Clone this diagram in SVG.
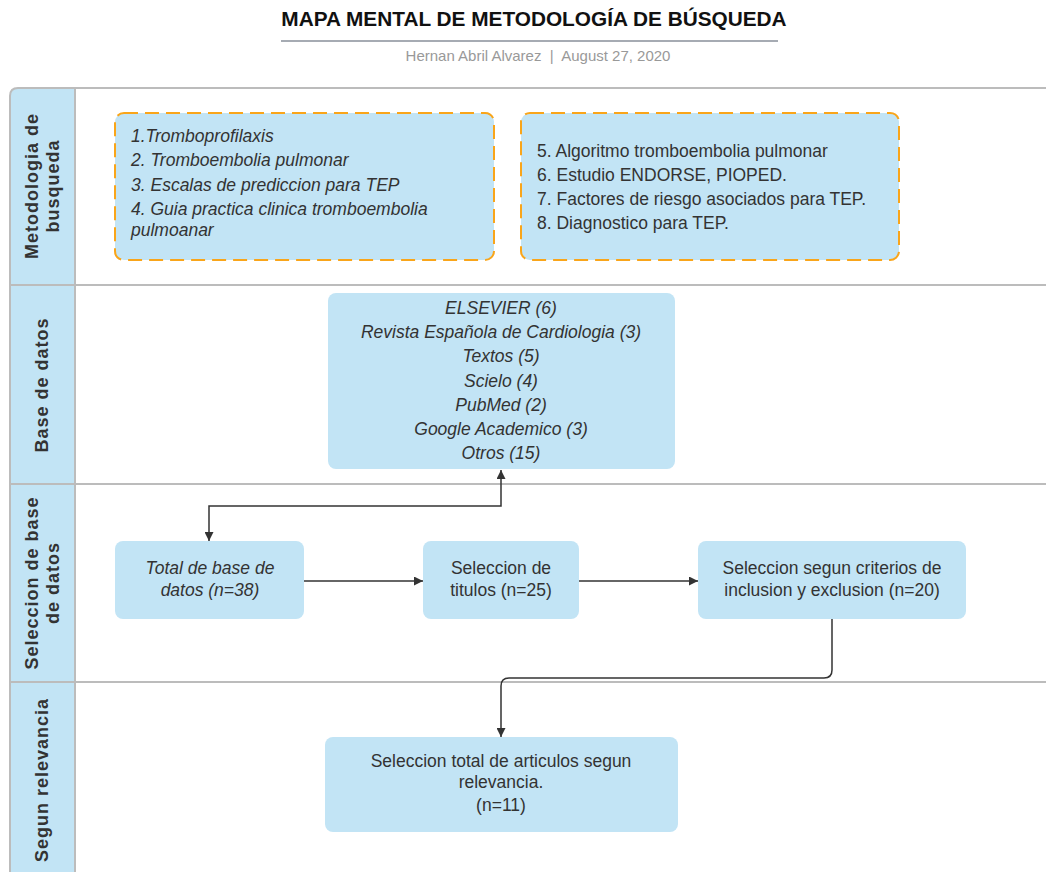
<svg xmlns="http://www.w3.org/2000/svg" width="1046" height="872" viewBox="0 0 1046 872">
<style>
.lane{fill:none;stroke:#bcbcbc;stroke-width:2}
.hdr{fill:#c2e4f5}
.lbl{font-family:"Liberation Sans",Arial,sans-serif;font-size:18px;font-weight:bold;fill:#333;letter-spacing:1px;text-anchor:middle}
.box{fill:#c2e4f5}
.dash{fill:#c2e4f5;stroke:#f9a51a;stroke-width:2;stroke-dasharray:14 7}
.t{font-family:"Liberation Sans",Arial,sans-serif;font-size:17.5px;fill:#333}
.i{font-style:italic}
.c{text-anchor:middle}
.edge{fill:none;stroke:#333;stroke-width:1.5}
</style>
<defs>
<marker id="ah" viewBox="0 0 10 10" refX="10" refY="5" markerWidth="9" markerHeight="9" markerUnits="userSpaceOnUse" orient="auto-start-reverse">
<path d="M0,0 L10,5 L0,10 z" fill="#333"/>
</marker>
</defs>
<rect width="1046" height="872" fill="#fff"/>
<g id="title">
<text x="534" y="26" font-family="Liberation Sans,Arial,sans-serif" font-size="20.8" font-weight="bold" fill="#111" text-anchor="middle">MAPA MENTAL DE METODOLOGÍA DE BÚSQUEDA</text>
<line x1="281" y1="41" x2="778" y2="41" stroke="#a6abb3" stroke-width="2"/>
<text x="538" y="61" font-family="Liberation Sans,Arial,sans-serif" font-size="15" fill="#999" text-anchor="middle" xml:space="preserve">Hernan Abril Alvarez  |  August 27, 2020</text>
</g>
<g id="swimlanes">
<path class="hdr" d="M10,872 L10,96 Q10,88 18,88 L75,88 L75,872 z"/>
<path class="lane" d="M10,872 L10,96 Q10,88 18,88 L1046,88"/>
<line class="lane" x1="75" y1="88" x2="75" y2="872"/>
<line class="lane" x1="10" y1="285" x2="1046" y2="285"/>
<line class="lane" x1="10" y1="484" x2="1046" y2="484"/>
<line class="lane" x1="10" y1="682" x2="1046" y2="682"/>
<text class="lbl" transform="translate(42,186) rotate(-90)"><tspan x="0" y="-4">Metodologia de</tspan><tspan x="0" y="17">busqueda</tspan></text>
<text class="lbl" transform="translate(42,385) rotate(-90)" y="6">Base de datos</text>
<text class="lbl" transform="translate(42,583) rotate(-90)"><tspan x="0" y="-4">Seleccion de base</tspan><tspan x="0" y="17">de datos</tspan></text>
<text class="lbl" transform="translate(42,780) rotate(-90)" y="6">Segun relevancia</text>
</g>
<g id="connectors">
<path class="edge" d="M501,470 L501,506 L209,506 L209,541" marker-start="url(#ah)" marker-end="url(#ah)"/>
<path class="edge" d="M304,581 L423,581" marker-end="url(#ah)"/>
<path class="edge" d="M579,581 L698,581" marker-end="url(#ah)"/>
<path class="edge" d="M832,619 L832,670 Q832,678 824,678 L509,678 Q501,678 501,686 L501,737" marker-end="url(#ah)"/>
</g>
<g id="node-temas1">
<rect class="dash" x="115" y="113" width="379" height="147" rx="9"/>
<text class="t i" x="131"><tspan x="131" y="142">1.Tromboprofilaxis</tspan><tspan x="131" y="166">2. Tromboembolia pulmonar</tspan><tspan x="131" y="191">3. Escalas de prediccion para TEP</tspan><tspan x="131" y="215">4. Guia practica clinica tromboembolia</tspan><tspan x="131" y="236">pulmoanar</tspan></text>
</g>
<g id="node-temas2">
<rect class="dash" x="521" y="113" width="378" height="147" rx="9"/>
<text class="t" x="537"><tspan x="537" y="157">5. Algoritmo tromboembolia pulmonar</tspan><tspan x="537" y="181">6. Estudio ENDORSE, PIOPED.</tspan><tspan x="537" y="205">7. Factores de riesgo asociados para TEP.</tspan><tspan x="537" y="229">8. Diagnostico para TEP.</tspan></text>
</g>
<g id="node-bases">
<rect class="box" x="328" y="293" width="347" height="176" rx="8"/>
<text class="t i c"><tspan x="501" y="314">ELSEVIER (6)</tspan><tspan x="501" y="338">Revista Española de Cardiologia (3)</tspan><tspan x="501" y="362">Textos (5)</tspan><tspan x="501" y="387">Scielo (4)</tspan><tspan x="501" y="411">PubMed (2)</tspan><tspan x="501" y="435">Google Academico (3)</tspan><tspan x="501" y="459">Otros (15)</tspan></text>
</g>
<g id="node-total">
<rect class="box" x="115" y="541" width="189" height="78" rx="8"/>
<text class="t i c"><tspan x="210" y="574">Total de base de</tspan><tspan x="210" y="596">datos (n=38)</tspan></text>
</g>
<g id="node-titulos">
<rect class="box" x="423" y="541" width="156" height="78" rx="8"/>
<text class="t c"><tspan x="501" y="574">Seleccion de</tspan><tspan x="501" y="596">titulos (n=25)</tspan></text>
</g>
<g id="node-criterios">
<rect class="box" x="698" y="541" width="268" height="78" rx="8"/>
<text class="t c"><tspan x="832" y="574">Seleccion segun criterios de</tspan><tspan x="832" y="596">inclusion y exclusion (n=20)</tspan></text>
</g>
<g id="node-relevancia">
<rect class="box" x="325" y="737" width="353" height="95" rx="8"/>
<text class="t c"><tspan x="501" y="767">Seleccion total de articulos segun</tspan><tspan x="501" y="788">relevancia.</tspan><tspan x="501" y="811">(n=11)</tspan></text>
</g>
</svg>
